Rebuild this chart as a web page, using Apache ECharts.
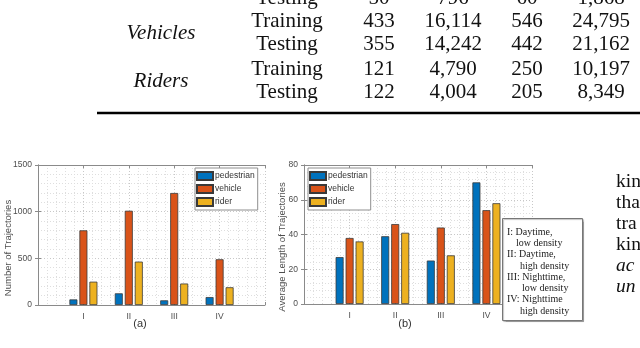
<!DOCTYPE html>
<html>
<head>
<meta charset="utf-8">
<script src="https://cdn.jsdelivr.net/npm/echarts@6/dist/echarts.min.js"></script>
<style>
  html, body { margin: 0; padding: 0; background: #fff; }
  #chart { width: 640px; height: 348px; }
</style>
</head>
<body>
<div id="chart"></div>
<script>
// categories and series
const categories = ["I", "II", "III", "IV"];
const seriesNames = ["pedestrian", "vehicle", "rider"];
const colors = ["#0072BD", "#D95319", "#EDB120"];

// (a) number of trajectories
const countPed = [60, 125, 50, 85];
const countVeh = [800, 1010, 1200, 490];
const countRider = [250, 465, 230, 190];
const countMax = 1500;
const countStep = 500;

// (b) average length of trajectories
const lenPed = [27, 39, 25, 70];
const lenVeh = [38, 46, 44, 54];
const lenRider = [36, 41, 28, 58];
const lenMax = 80;
const lenStep = 20;

// table above the figure
const tableGroups = ["Vehicles", "Riders"];
const tableSplits = ["Testing", "Training", "Testing", "Training", "Testing"];
const tableCol1 = ["50", "433", "355", "121", "122"];
const tableCol2 = ["796", "16,114", "14,242", "4,790", "4,004"];
const tableCol3 = ["60", "546", "442", "250", "205"];
const tableCol4 = ["1,868", "24,795", "21,162", "10,197", "8,349"];

// note box and side text
const noteLines = ["I: Daytime,", "low density", "II: Daytime,", "high density",
  "III: Nighttime,", "low density", "IV: Nighttime", "high density"];
const sideWords = ["kin", "tha", "tra", "kin", "ac", "un"];

var chartDom = document.getElementById("chart");
var myChart = echarts.init(chartDom);

var axisColor = "#8a8a8a";
var sans = "Liberation Sans";
var serif = "Liberation Serif";

function xAxes(gridIndex) {
  return [
    {
      type: "value", gridIndex: gridIndex, min: 0, max: 5, interval: 1,
      axisLine: { show: true, onZero: false, lineStyle: { color: axisColor } },
      axisTick: { show: true, inside: true, length: 3, lineStyle: { color: axisColor } },
      axisLabel: {
        color: "#4d4d4d", fontFamily: sans, fontSize: 8.5, margin: 7,
        formatter: function (v) { return categories[v - 1] || ""; },
      },
      splitLine: { show: true, lineStyle: { color: "#c8c8c8", type: [1, 2] } },
      minorTick: { show: false, splitNumber: 5 },
      minorSplitLine: { show: true, lineStyle: { color: "#dedede", type: [1, 2] } },
    },
    {
      type: "value", gridIndex: gridIndex, position: "top", min: 0, max: 5, interval: 1,
      axisLine: { show: true, onZero: false, lineStyle: { color: axisColor } },
      axisTick: { show: true, inside: true, length: 3, lineStyle: { color: axisColor } },
      axisLabel: { show: false },
      splitLine: { show: false },
    },
  ];
}

function yAxes(gridIndex, max, step) {
  return [
    {
      type: "value", gridIndex: gridIndex, min: 0, max: max, interval: step,
      axisLine: { show: true, lineStyle: { color: axisColor } },
      axisTick: { show: true, inside: true, length: 3, lineStyle: { color: axisColor } },
      axisLabel: {
        color: "#4d4d4d", fontFamily: sans, fontSize: 8.5, margin: 6,
        formatter: function (v) { return String(v); },
      },
      splitLine: { show: true, lineStyle: { color: "#c8c8c8", type: [1, 2] } },
      minorTick: { show: false, splitNumber: 5 },
      minorSplitLine: { show: true, lineStyle: { color: "#dedede", type: [1, 2] } },
    },
    {
      type: "value", gridIndex: gridIndex, position: "right", min: 0, max: max, interval: step,
      axisLine: { show: true, lineStyle: { color: axisColor } },
      axisTick: { show: true, inside: true, length: 3, lineStyle: { color: axisColor } },
      axisLabel: { show: false },
      splitLine: { show: false },
    },
  ];
}

function barSeries(name, color, values, xi, yi) {
  return {
    type: "bar",
    name: name,
    xAxisIndex: xi,
    yAxisIndex: yi,
    barWidth: 8,
    barGap: "25%",
    itemStyle: { color: color, borderColor: "#3a3a3a", borderWidth: 0.8 },
    data: values.map(function (v, i) { return [i + 1, v]; }),
  };
}

function legendAt(left) {
  return {
    data: seriesNames.map(function (n) { return { name: n, icon: "rect" }; }),
    orient: "vertical",
    left: left,
    top: 168,
    itemWidth: 16,
    itemHeight: 8,
    itemGap: 3,
    padding: [3, 3, 3, 1],
    borderColor: "#8f8f8f",
    borderWidth: 1,
    backgroundColor: "#fff",
    selectedMode: false,
    textStyle: { color: "#333", fontFamily: sans, fontSize: 8.5, padding: [0, 0, 0, -3] },
  };
}

// table text
var tableTexts = [];
var rowY = [-2, 21.5, 44.5, 69, 92];
var colX = [379, 453, 527, 601];
var cols = [tableCol1, tableCol2, tableCol3, tableCol4];
tableSplits.forEach(function (s, i) {
  tableTexts.push({ type: "text", x: 287, y: rowY[i],
    style: { text: s, font: "21px " + serif, fill: "#111", textAlign: "center", textVerticalAlign: "middle" } });
  cols.forEach(function (col, c) {
    tableTexts.push({ type: "text", x: colX[c], y: rowY[i],
      style: { text: col[i], font: "21px " + serif, fill: "#111", textAlign: "center", textVerticalAlign: "middle" } });
  });
});
var groupY = [33, 81];
tableGroups.forEach(function (g, i) {
  tableTexts.push({ type: "text", x: 161, y: groupY[i],
    style: { text: g, font: "italic 21px " + serif, fill: "#111", textAlign: "center", textVerticalAlign: "middle" } });
});

var noteTexts = noteLines.map(function (t, i) {
  var indent = [0, 9, 0, 13, 0, 15, 0, 13][i];
  return { type: "text", x: 507 + indent, y: 232 + i * 11.3,
    style: { text: t, font: "10px " + serif, fill: "#222", textVerticalAlign: "middle" } };
});

var sideTexts = sideWords.map(function (w, i) {
  return { type: "text", x: 616, y: 182 + i * 21,
    style: { text: w, font: (i >= 4 ? "italic " : "") + "19.5px " + serif, fill: "#111", textVerticalAlign: "middle" } };
});

var option = {
  animation: false,
  backgroundColor: "#fff",
  grid: [
    { left: 38, top: 165, width: 227, height: 140 },
    { left: 304, top: 165, width: 228, height: 139 },
  ],
  xAxis: xAxes(0).concat(xAxes(1)),
  yAxis: yAxes(0, countMax, countStep).concat(yAxes(1, lenMax, lenStep)),
  legend: [legendAt(195), legendAt(308)],
  series: [
    barSeries(seriesNames[0], colors[0], countPed, 0, 0),
    barSeries(seriesNames[1], colors[1], countVeh, 0, 0),
    barSeries(seriesNames[2], colors[2], countRider, 0, 0),
    barSeries(seriesNames[0], colors[0], lenPed, 2, 2),
    barSeries(seriesNames[1], colors[1], lenVeh, 2, 2),
    barSeries(seriesNames[2], colors[2], lenRider, 2, 2),
  ],
  graphic: [
    { type: "line", shape: { x1: 97, y1: 113, x2: 640, y2: 113 }, style: { stroke: "#000", lineWidth: 2.5 } },
    { type: "text", x: 8, y: 248, rotation: Math.PI / 2,
      style: { text: "Number of Trajectories", font: "9.5px " + sans, fill: "#4d4d4d", textAlign: "center", textVerticalAlign: "middle" } },
    { type: "text", x: 282, y: 247, rotation: Math.PI / 2,
      style: { text: "Average Length of Trajectories", font: "9.5px " + sans, fill: "#4d4d4d", textAlign: "center", textVerticalAlign: "middle" } },
    { type: "text", x: 140, y: 324,
      style: { text: "(a)", font: "11px " + sans, fill: "#333", textAlign: "center", textVerticalAlign: "middle" } },
    { type: "text", x: 405, y: 324,
      style: { text: "(b)", font: "11px " + sans, fill: "#333", textAlign: "center", textVerticalAlign: "middle" } },
    { type: "rect", shape: { x: 502.5, y: 218.5, width: 80, height: 102 }, z: 10,
      style: { fill: "#fff", stroke: "#777", lineWidth: 1, shadowColor: "rgba(0,0,0,0.25)", shadowOffsetX: 1, shadowOffsetY: 1, shadowBlur: 1 } },
  ].concat(noteTexts.map(function (t) { t.z = 11; return t; }), tableTexts, sideTexts),
};

myChart.setOption(option);
</script>
</body>
</html>
